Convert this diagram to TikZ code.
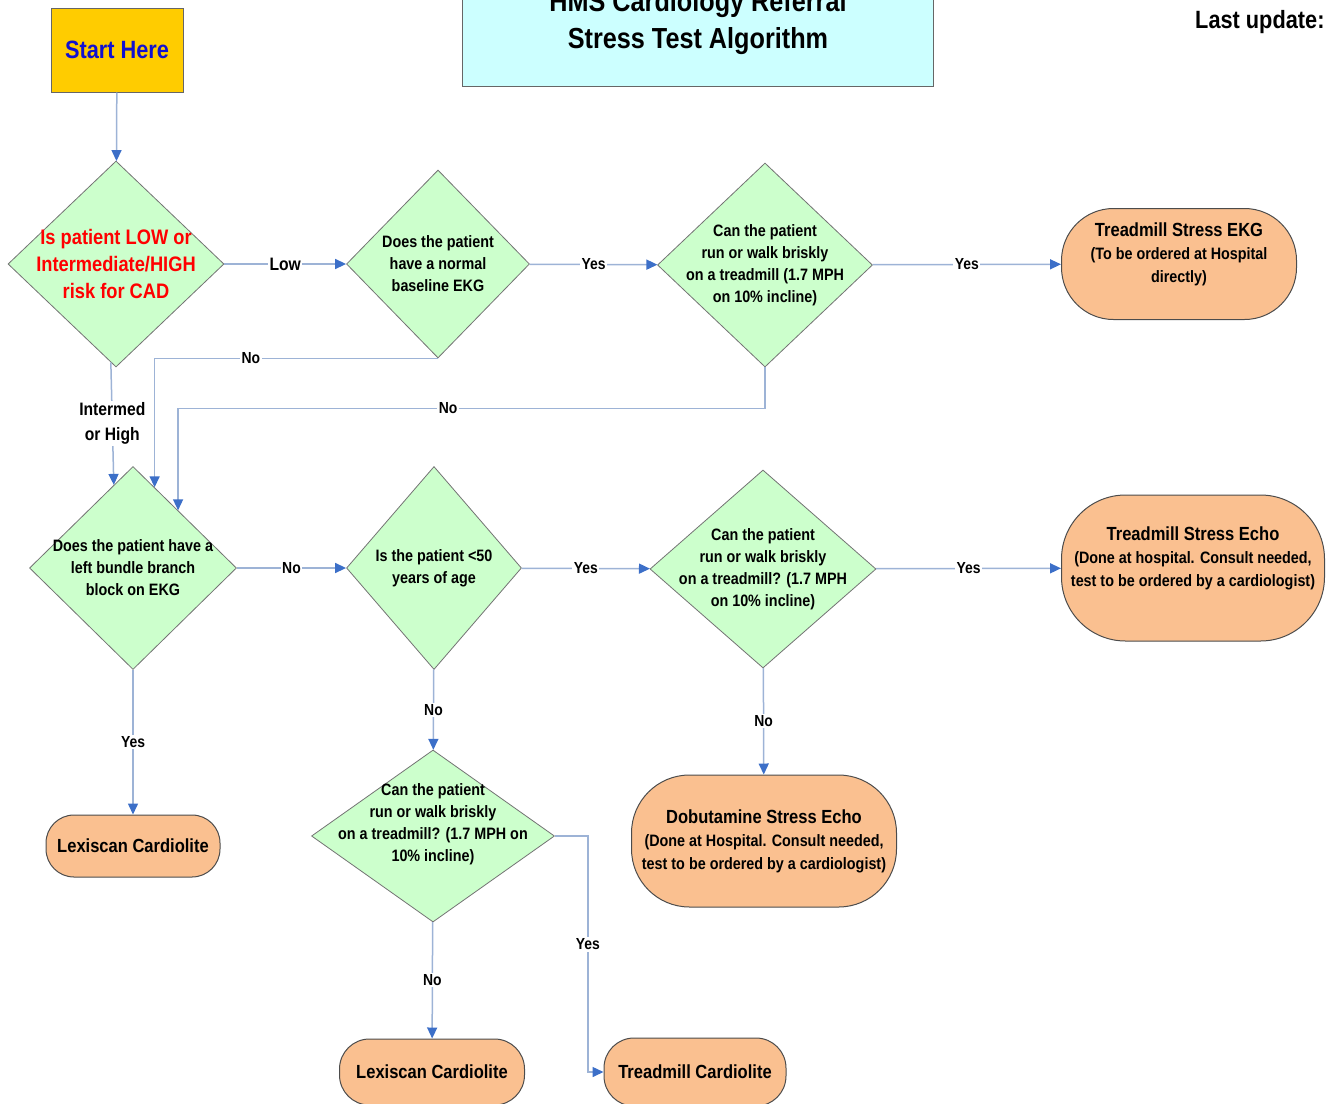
\documentclass[tikz,border=0pt]{standalone}
\usepackage{fontspec}
\setmainfont{Liberation Sans}[FakeStretch=0.87]
\usepackage{xcolor}
\usetikzlibrary{positioning, shapes.geometric, arrows.meta}

\definecolor{diamondgreen}{HTML}{CCFFCC}
\definecolor{termtan}{HTML}{FAC090}
\definecolor{startgold}{HTML}{FFCC00}
\definecolor{titlecyan}{HTML}{CCFFFF}
\definecolor{linkgray}{HTML}{9DB3D6}
\definecolor{tipblue}{HTML}{3C6FC8}
\definecolor{startblue}{HTML}{1010D0}
\definecolor{riskred}{HTML}{FF0000}

\tikzset{
  decide/.style 2 args={diamond, draw=black!55, line width=0.8pt, fill=diamondgreen, inner sep=0pt, minimum width=#1pt, minimum height=#2pt},
  dtext/.style={align=center, inner sep=0pt, font=\bfseries\fontsize{16.5}{22}\selectfont},
  term/.style n args={3}{rectangle, rounded corners=#3pt, draw=black!70, line width=1pt, fill=termtan, minimum width=#1pt, minimum height=#2pt, align=center, inner sep=0pt, font=\bfseries\fontsize{16.5}{23}\selectfont},
  ttext/.style={align=center, inner sep=0pt, yshift=10pt, font=\bfseries\fontsize{16.5}{23}\selectfont},
  conn/.style={draw=linkgray, line width=1.5pt, -{Triangle[length=11pt, width=10pt, color=tipblue]}},
  lbl/.style={fill=white, inner sep=1.5pt, font=\bfseries\fontsize{16}{19}\selectfont},
}
\newcommand{\ttl}[1]{{\fontsize{19}{23}\selectfont #1}}

\begin{document}
\begin{tikzpicture}[x=1pt, y=-1pt]
  \useasboundingbox (0,0) rectangle (1333,1103);
  \clip (0,0) rectangle (1333,1103);

  % header
  \node[draw=black!60, line width=1pt, fill=startgold, minimum width=132pt, minimum height=84pt, text=startblue, font=\bfseries\fontsize{25}{30}\selectfont] (start) at (117,50) {Start Here};
  \node[draw=black!60, line width=1pt, fill=titlecyan, minimum width=471pt, minimum height=126pt, align=center, font=\bfseries\fontsize{29}{37}\selectfont] (title) at (698,23) {HMS Cardiology Referral\\Stress Test Algorithm};
  \node[anchor=west, inner sep=0pt, font=\bfseries\fontsize{25}{30}\selectfont] (update) at (1195,22) {Last update:};

  % decisions
  \node[decide={216}{206}, label={[dtext, text=riskred, font=\bfseries\fontsize{21}{27}\selectfont]center:{Is patient LOW or\\Intermediate/HIGH\\risk for CAD}}] (qRisk) at (116,264) {};
  \node[decide={183}{188}, label={[dtext]center:{Does the patient\\have a normal\\baseline EKG}}] (qEKG) at (438,264) {};
  \node[decide={215}{204}, label={[dtext]center:{Can the patient\\run or walk briskly\\on a treadmill (1.7 MPH\\on 10\% incline)}}] (qRun) at (765,265) {};
  \node[decide={207}{203}, label={[dtext]center:{Does the patient have a\\left bundle branch\\block on EKG}}] (qLBBB) at (133,568) {};
  \node[decide={175}{203}, label={[dtext]center:{Is the patient <50\\years of age}}] (qAge) at (434,568) {};
  \node[decide={226}{198}, label={[dtext]center:{Can the patient\\run or walk briskly\\on a treadmill? (1.7 MPH\\on 10\% incline)}}] (qRunB) at (763,569) {};
  \node[decide={243}{172}, label={[dtext, yshift=12pt]center:{Can the patient\\run or walk briskly\\on a treadmill? (1.7 MPH on\\10\% incline)}}] (qRunC) at (433,836) {};

  % outcomes
  \node[term={235}{111}{52}, label={[ttext]center:{\ttl{Treadmill Stress EKG}\\(To be ordered at Hospital\\directly)}}] (tEKG) at (1179,264) {};
  \node[term={263}{146}{64}, label={[ttext]center:{\ttl{Treadmill Stress Echo}\\(Done at hospital. Consult needed,\\test to be ordered by a cardiologist)}}] (tEcho) at (1193,568) {};
  \node[term={174}{62}{28}] (tLexA) at (133,846) {\ttl{Lexiscan Cardiolite}};
  \node[term={265}{132}{58}] (tDobu) at (764,841) {\ttl{Dobutamine Stress Echo}\\(Done at Hospital. Consult needed,\\test to be ordered by a cardiologist)};
  \node[term={185}{66}{30}] (tLexB) at (432,1072) {\ttl{Lexiscan Cardiolite}};
  \node[term={182}{68}{30}] (tCardio) at (695,1072) {\ttl{Treadmill Cardiolite}};

  % connectors
  \draw[conn] (start) -- (qRisk);
  \draw[conn] (qRisk) -- node[lbl, font=\bfseries\fontsize{18}{22}\selectfont]{Low} (qEKG);
  \draw[conn] (qEKG) -- node[lbl]{Yes} (qRun);
  \draw[conn] (qRun) -- node[lbl]{Yes} (tEKG);
  \draw[conn] (qRisk.267) -- node[lbl, align=center, font=\bfseries\fontsize{18}{25}\selectfont]{Intermed\\or High} (qLBBB.103);
  \draw[conn] (qEKG.south) -| node[pos=0.33, lbl]{No} (qLBBB.75);
  \draw[conn] (qRun.south) -- ++(0,41) -| node[pos=0.27, lbl]{No} (qLBBB.52);
  \draw[conn] (qLBBB) -- node[lbl]{No} (qAge);
  \draw[conn] (qAge) -- node[lbl]{Yes} (qRunB);
  \draw[conn] (qRunB) -- node[lbl]{Yes} (tEcho);
  \draw[conn] (qLBBB) -- node[lbl]{Yes} (tLexA);
  \draw[conn] (qAge) -- node[lbl]{No} (qRunC);
  \draw[conn] (qRunB) -- node[lbl]{No} (tDobu);
  \draw[conn] (qRunC) -- node[lbl]{No} (tLexB);
  \draw[conn] (qRunC.east) -- ++(33,0) |- node[pos=0.23, lbl]{Yes} (tCardio.west);
\end{tikzpicture}
\end{document}
